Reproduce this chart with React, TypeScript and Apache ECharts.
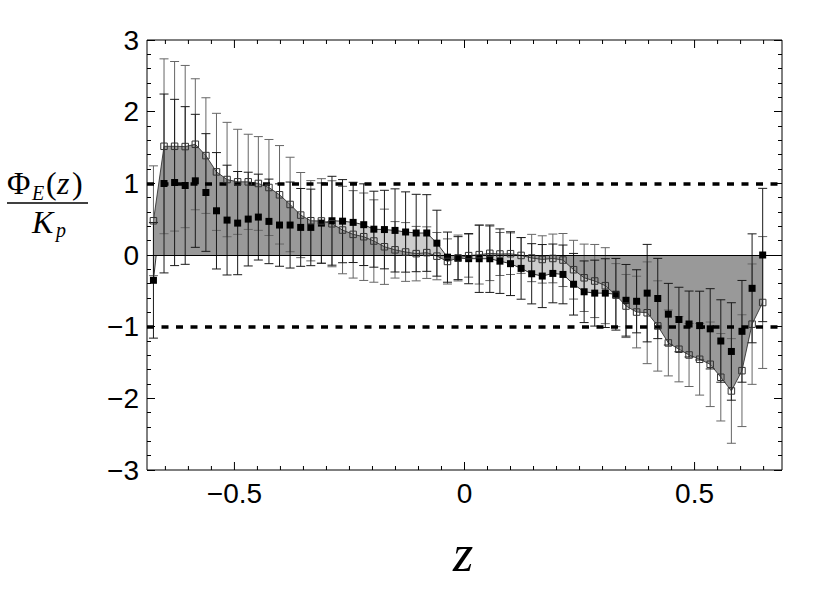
import React, { useEffect, useRef } from 'react';
import * as echarts from 'echarts';

// bin centres (z)
const Z_POS = [
  -0.676, -0.653, -0.630, -0.607, -0.585, -0.562, -0.539, -0.516, -0.493, -0.470,
  -0.448, -0.425, -0.402, -0.379, -0.356, -0.334, -0.311, -0.288, -0.265, -0.242,
  -0.219, -0.197, -0.174, -0.151, -0.128, -0.105, -0.082, -0.060, -0.037, -0.014,
  0.009, 0.032, 0.055, 0.077, 0.100, 0.123, 0.146, 0.169, 0.192, 0.214,
  0.237, 0.260, 0.283, 0.306, 0.329, 0.351, 0.374, 0.397, 0.420, 0.443,
  0.466, 0.488, 0.511, 0.534, 0.557, 0.580, 0.603, 0.625, 0.648,
];

// open squares
const OPEN_VALUES = [
  0.478, 1.517, 1.517, 1.513, 1.545, 1.387, 1.160, 1.053, 1.021, 1.021,
  0.998, 0.942, 0.840, 0.705, 0.557, 0.478, 0.475, 0.436, 0.348, 0.288,
  0.255, 0.195, 0.115, 0.072, 0.042, 0.019, 0.033, -0.016, -0.090, -0.042,
  -0.009, 0.005, 0.023, 0.014, 0.018, -0.006, -0.042, -0.062, -0.048, -0.070,
  -0.205, -0.318, -0.363, -0.428, -0.560, -0.712, -0.796, -0.806, -0.990, -1.227,
  -1.315, -1.395, -1.455, -1.525, -1.706, -1.897, -1.614, -0.965, -0.663,
];
const OPEN_ERRORS = [
  0.766, 1.220, 1.183, 1.132, 0.914, 0.807, 0.817, 0.798, 0.733, 0.664,
  0.654, 0.670, 0.687, 0.659, 0.594, 0.560, 0.590, 0.600, 0.610, 0.610,
  0.610, 0.575, 0.525, 0.394, 0.410, 0.380, 0.360, 0.330, 0.315, 0.320,
  0.300, 0.410, 0.380, 0.300, 0.290, 0.250, 0.330, 0.330, 0.340, 0.370,
  0.410, 0.470, 0.510, 0.530, 0.440, 0.440, 0.500, 0.710, 0.630, 0.460,
  0.455, 0.440, 0.500, 0.590, 0.610, 0.730, 0.780, 0.840, 0.920,
];

// filled squares
const FILLED_VALUES = [
  -0.353, 0.998, 1.012, 0.970, 1.035, 0.872, 0.617, 0.487, 0.445, 0.501,
  0.529, 0.469, 0.418, 0.418, 0.385, 0.385, 0.445, 0.478, 0.472, 0.455,
  0.423, 0.360, 0.355, 0.343, 0.321, 0.307, 0.307, 0.165, -0.030, -0.044,
  -0.051, -0.052, -0.052, -0.086, -0.121, -0.187, -0.262, -0.294, -0.257, -0.271,
  -0.408, -0.513, -0.532, -0.532, -0.548, -0.632, -0.646, -0.532, -0.607, -0.826,
  -0.900, -0.963, -0.985, -1.030, -1.200, -1.346, -1.065, -0.465, 0.000,
];
const FILLED_ERRORS = [
  0.807, 1.248, 1.160, 1.100, 0.928, 0.821, 0.812, 0.766, 0.720, 0.654,
  0.599, 0.590, 0.575, 0.600, 0.543, 0.534, 0.560, 0.620, 0.580, 0.560,
  0.570, 0.530, 0.548, 0.580, 0.560, 0.540, 0.535, 0.460, 0.350, 0.300,
  0.350, 0.470, 0.470, 0.450, 0.445, 0.430, 0.420, 0.440, 0.410, 0.410,
  0.430, 0.430, 0.460, 0.480, 0.500, 0.500, 0.440, 0.680, 0.560, 0.430,
  0.450, 0.460, 0.480, 0.560, 0.575, 0.680, 0.710, 0.760, 0.930,
];

const X_MIN = -0.69;
const X_MAX = 0.69;
const Y_MIN = -3;
const Y_MAX = 3;
const X_LABELS = [-0.5, 0, 0.5];
const X_TICKS = [
  -0.65, -0.6, -0.55, -0.5, -0.45, -0.4, -0.35, -0.3, -0.25, -0.2, -0.15, -0.1, -0.05,
  0, 0.05, 0.1, 0.15, 0.2, 0.25, 0.3, 0.35, 0.4, 0.45, 0.5, 0.55, 0.6, 0.65,
];
const REF_LINES = [1, -1];

const fmt = (v: number) => (v < 0 ? '\u2212' + String(Math.abs(v)) : String(v));

const errorBarSeries = (vals: number[], errs: number[], color: string) => ({
  type: 'custom',
  z: 3,
  silent: true,
  clip: false,
  encode: { x: 0, y: [1, 2] },
  data: Z_POS.map((z, i) => [z, vals[i] - errs[i], vals[i] + errs[i]]),
  renderItem: (params: any, api: any) => {
    const x = api.value(0);
    const lo = api.coord([x, api.value(1)]);
    const hi = api.coord([x, api.value(2)]);
    const hw = 4.5;
    const style = { stroke: color, lineWidth: 1, fill: 'none' };
    return {
      type: 'group',
      children: [
        { type: 'line', shape: { x1: lo[0], y1: lo[1], x2: hi[0], y2: hi[1] }, style },
        { type: 'line', shape: { x1: lo[0] - hw, y1: lo[1], x2: lo[0] + hw, y2: lo[1] }, style },
        { type: 'line', shape: { x1: hi[0] - hw, y1: hi[1], x2: hi[0] + hw, y2: hi[1] }, style },
      ],
    };
  },
});

const yAxisBase = (position: 'left' | 'right', showLabel: boolean) => ({
  type: 'value',
  position,
  min: Y_MIN,
  max: Y_MAX,
  interval: 1,
  axisLine: { show: false, onZero: false },
  splitLine: { show: false },
  axisTick: { show: true, inside: true, length: 8, lineStyle: { color: '#000', width: 1 } },
  minorTick: { show: true, splitNumber: 5, length: 4, lineStyle: { color: '#000', width: 1 } },
  axisLabel: {
    show: showLabel,
    fontSize: 28,
    color: '#000',
    fontFamily: 'Liberation Sans',
    margin: 8,
    formatter: (v: number) => fmt(v),
  },
});

const MATH = 'Liberation Serif';

const mathText = (text: string, x: number, y: number, size: number, italic: boolean) => ({
  type: 'text',
  x,
  y,
  silent: true,
  style: {
    text,
    font: `${italic ? 'italic ' : ''}${size}px "${MATH}"`,
    fill: '#000',
    align: 'left',
    verticalAlign: 'middle',
    lineHeight: size,
  },
});

export default function App() {
  const ref = useRef<HTMLDivElement>(null);
  useEffect(() => {
    if (!ref.current) return;
    const chart = echarts.init(ref.current, null, { renderer: 'svg' });
    const option: any = {
      animation: false,
      backgroundColor: '#fff',
      grid: {
        left: 147,
        top: 40,
        right: 36,
        bottom: 130,
        show: true,
        borderColor: '#000',
        borderWidth: 1,
        backgroundColor: 'transparent',
      },
      xAxis: {
        type: 'value',
        min: X_MIN,
        max: X_MAX,
        splitNumber: 3,
        minInterval: 0.5,
        maxInterval: 0.5,
        axisLine: { show: false, onZero: false },
        axisTick: { show: false },
        splitLine: { show: false },
        axisLabel: {
          fontSize: 28,
          color: '#000',
          fontFamily: 'Liberation Sans',
          margin: 9,
          formatter: (v: number) =>
            X_LABELS.some((t) => Math.abs(t - v) < 1e-9) ? fmt(v) : '',
        },
      },
      yAxis: [yAxisBase('left', true), yAxisBase('right', false)],
      graphic: [
        mathText('\u03A6', 7, 183, 32, false),
        mathText('E', 32, 193, 20, true),
        mathText('(', 46, 183, 32, false),
        mathText('z', 57, 183, 32, true),
        mathText(')', 72, 183, 32, false),
        { type: 'line', silent: true, shape: { x1: 7, y1: 203, x2: 88, y2: 203 }, style: { stroke: '#000', lineWidth: 1.3 } },
        mathText('K', 32, 222, 32, true),
        mathText('p', 56, 230, 20, true),
        {
          type: 'text',
          x: 463,
          y: 553,
          silent: true,
          style: {
            text: 'z',
            font: `italic 52px "${MATH}"`,
            fill: '#000',
            align: 'center',
            verticalAlign: 'middle',
            lineHeight: 52,
          },
        },
      ],
      series: [
        {
          name: 'filledArea',
          type: 'line',
          z: 1,
          silent: true,
          symbol: 'none',
          data: Z_POS.map((z, i) => [z, FILLED_VALUES[i]]),
          lineStyle: { color: '#000', width: 0.8 },
          areaStyle: { color: '#cccccc', opacity: 1 },
        },
        {
          name: 'openArea',
          type: 'line',
          z: 2,
          silent: true,
          symbol: 'none',
          data: Z_POS.map((z, i) => [z, OPEN_VALUES[i]]),
          lineStyle: { color: '#222', width: 0.8 },
          areaStyle: { color: '#999999', opacity: 1 },
          markLine: {
            silent: true,
            symbol: 'none',
            label: { show: false },
            lineStyle: { color: '#000', width: 1.2, type: 'solid' },
            data: [{ yAxis: 0 }],
          },
        },
        errorBarSeries(OPEN_VALUES, OPEN_ERRORS, '#666'),
        errorBarSeries(FILLED_VALUES, FILLED_ERRORS, '#1a1a1a'),
        {
          name: 'filled',
          type: 'scatter',
          z: 5,
          silent: true,
          symbol: 'rect',
          symbolSize: 7,
          data: Z_POS.map((z, i) => [z, FILLED_VALUES[i]]),
          itemStyle: { color: '#000', opacity: 1 },
          markLine: {
            silent: true,
            symbol: 'none',
            label: { show: false },
            lineStyle: { color: '#000', width: 3.5, type: [7, 7.5] },
            data: REF_LINES.map((v) => ({ yAxis: v })),
          },
        },
        {
          name: 'open',
          type: 'scatter',
          z: 6,
          silent: true,
          symbol: 'rect',
          symbolSize: 6.5,
          data: Z_POS.map((z, i) => [z, OPEN_VALUES[i]]),
          itemStyle: { color: 'rgba(0,0,0,0)', borderColor: '#333', borderWidth: 1, opacity: 1 },
        },
        {
          name: 'xTicks',
          type: 'custom',
          z: 7,
          silent: true,
          clip: false,
          encode: { x: 0 },
          data: X_TICKS.map((t) => [t, X_LABELS.some((m) => Math.abs(m - t) < 1e-9) ? 1 : 0]),
          renderItem: (params: any, api: any) => {
            const v = api.value(0);
            const len = api.value(1) === 1 ? 8 : 4;
            const b = api.coord([v, Y_MIN]);
            const t = api.coord([v, Y_MAX]);
            const style = { stroke: '#000', lineWidth: 1 };
            return {
              type: 'group',
              children: [
                { type: 'line', shape: { x1: b[0], y1: b[1], x2: b[0], y2: b[1] - len }, style },
                { type: 'line', shape: { x1: t[0], y1: t[1], x2: t[0], y2: t[1] + len }, style },
              ],
            };
          },
        },
      ],
    };
    chart.setOption(option);
    return () => chart.dispose();
  }, []);
  return (
    <div
      ref={ref}
      style={{ position: 'fixed', left: 0, top: 0, width: 818, height: 600, background: '#fff' }}
    />
  );
}
